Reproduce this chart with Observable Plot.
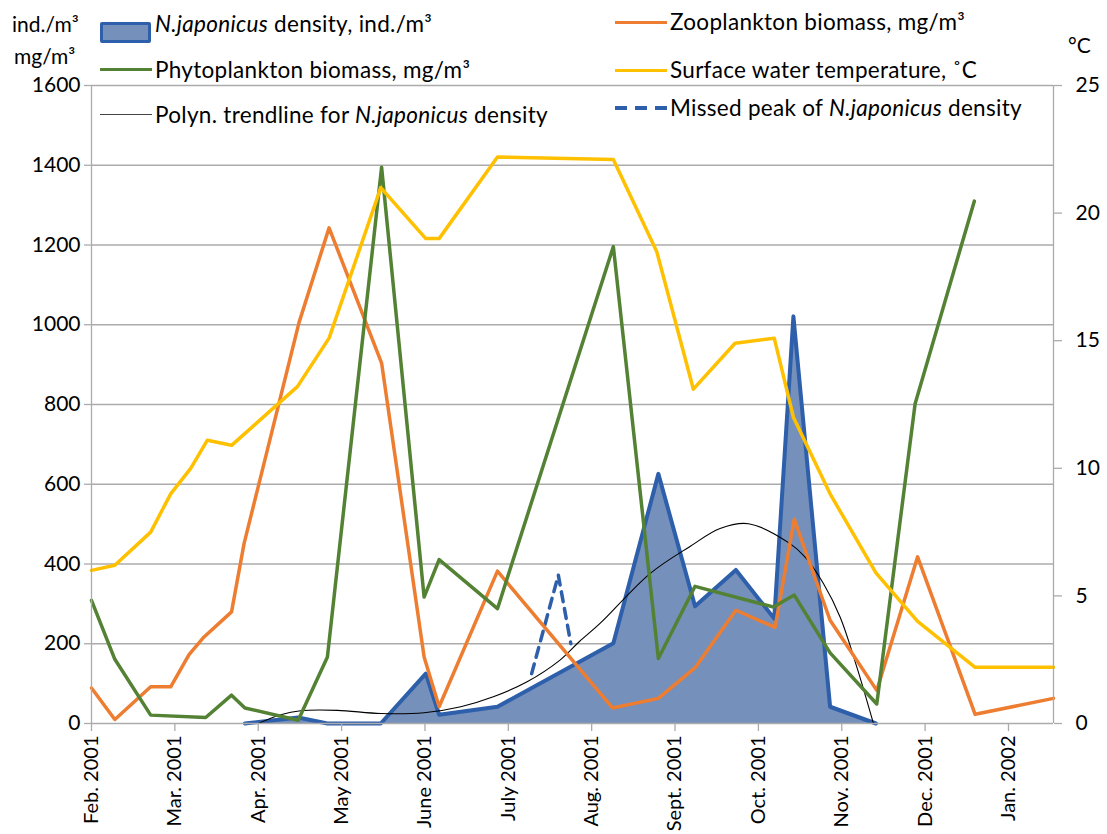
<!DOCTYPE html>
<html><head><meta charset="utf-8">
<script src="https://cdn.jsdelivr.net/npm/d3@7"></script>
<script src="https://cdn.jsdelivr.net/npm/@observablehq/plot@0.6"></script>
<style>
body{margin:0;background:#fff;}
#wrap{position:relative;width:1107px;height:834px;overflow:hidden;font-family:Lato, "Open Sans", sans-serif;}
#wrap svg{position:absolute;left:0;top:0;}
.lg{position:absolute;font-size:22.5px;letter-spacing:0.3px;color:#000;white-space:nowrap;line-height:22px;}
.unit{font-size:21px;letter-spacing:0;}
.sw{position:absolute;}
</style></head><body><div id="wrap"></div>
<script>
// x positions are in months counted from 1 Feb 2001 (axis ticks at whole months)
const monthLabels = ["Feb. 2001","Mar. 2001","Apr. 2001","May 2001","June 2001","July 2001","Aug. 2001","Sept. 2001","Oct. 2001","Nov. 2001","Dec. 2001","Jan. 2002"];
const xEnd = 11.54;
const leftTicks = [0,200,400,600,800,1000,1200,1400,1600];
const rightTicks = [0,5,10,15,20,25];

// N. japonicus density, ind./m3
const density = [[1.84,0],[2.48,15],[2.83,0],[3.47,0],[4.01,125],[4.17,22],[4.87,42],[6.26,201],[6.80,626],[7.24,294],[7.73,385],[8.19,263],[8.42,1021],[8.86,42],[9.41,0]];
// missed peak of N. japonicus density
const missedPeak = [[5.28,125],[5.60,372],[5.75,200]];
// polynomial trendline for density
const trend = [[2.00,0],[2.27,22],[2.51,32],[2.95,33],[3.47,25],[3.99,27],[4.43,42],[4.82,67],[5.22,104],[5.62,159],[5.85,205],[6.10,251],[6.70,376],[7.18,444],[7.54,489],[7.88,501],[8.38,451],[8.56,417],[8.78,351],[8.98,267],[9.18,142],[9.38,0]];
// Zooplankton biomass, mg/m3
const zoo = [[0.00,89],[0.28,10],[0.71,92],[0.95,92],[1.17,173],[1.35,217],[1.68,280],[1.83,451],[2.49,1006],[2.85,1243],[3.48,904],[3.99,167],[4.17,42],[4.87,382],[6.25,39],[6.80,63],[7.24,140],[7.73,284],[8.20,241],[8.43,512],[8.86,259],[9.42,83],[9.91,418],[10.60,23],[11.54,63]];
// Phytoplankton biomass, mg/m3
const phyto = [[0.00,309],[0.28,161],[0.71,21],[1.37,15],[1.68,71],[1.84,39],[2.48,8],[2.83,167],[3.48,1395],[3.99,317],[4.17,411],[4.87,288],[6.26,1196],[6.80,163],[7.24,344],[8.18,292],[8.43,322],[8.86,177],[9.42,49],[9.88,802],[10.59,1310]];
// Surface water temperature, °C
const temp = [[0.00,6.0],[0.28,6.2],[0.71,7.5],[0.95,9.0],[1.19,10.0],[1.39,11.1],[1.68,10.9],[2.47,13.2],[2.85,15.1],[3.47,21.0],[4.01,19.0],[4.17,19.0],[4.87,22.2],[6.26,22.1],[6.78,18.5],[7.22,13.1],[7.72,14.9],[8.19,15.1],[8.42,12.0],[8.86,9.0],[9.41,5.9],[9.91,4.0],[10.60,2.2],[11.54,2.2]];

const tempToLeft = 1600 / 25;
const C = {blue:"#2e5fab", fill:"#7590bb", orange:"#ed7d31", green:"#548235", yellow:"#ffc000", grid:"#ababab"};

const chart = Plot.plot({
  width: 1107, height: 834,
  marginLeft: 91, marginRight: 54, marginTop: 85, marginBottom: 111,
  style: {fontFamily: "Lato, 'Open Sans', sans-serif", fontSize: "21px", color: "#000", background: "#fff"},
  x: {domain: [0, xEnd], axis: null},
  y: {domain: [0, 1600], axis: null},
  marks: [
    Plot.ruleY(leftTicks.slice(1), {stroke: C.grid, strokeWidth: 1.3}),
    Plot.areaY(density, {x: d => d[0], y: d => d[1], fill: C.fill}),
    Plot.line(density, {x: d => d[0], y: d => d[1], stroke: C.blue, strokeWidth: 4, strokeLinejoin: "round"}),
    Plot.line(trend, {x: d => d[0], y: d => d[1], stroke: "#000", strokeWidth: 1.1, curve: "catmull-rom"}),
    Plot.line(missedPeak, {x: d => d[0], y: d => d[1], stroke: C.blue, strokeWidth: 3.5, strokeDasharray: "10,7"}),
    Plot.line(zoo, {x: d => d[0], y: d => d[1], stroke: C.orange, strokeWidth: 3.5}),
    Plot.line(phyto, {x: d => d[0], y: d => d[1], stroke: C.green, strokeWidth: 3.5}),
    Plot.line(temp, {x: d => d[0], y: d => d[1] * tempToLeft, stroke: C.yellow, strokeWidth: 3.5}),
    Plot.ruleX([0, xEnd], {stroke: C.grid, strokeWidth: 1.3}),
    Plot.ruleY([0], {stroke: C.grid, strokeWidth: 1.3}),
    Plot.axisY(leftTicks, {anchor: "left", tickSize: 7, tickPadding: 4, stroke: C.grid, strokeWidth: 1.3, tickFormat: d => String(d)}),
    Plot.axisY(rightTicks.map(t => t * tempToLeft), {anchor: "right", tickSize: 8, tickPadding: 14, stroke: C.grid, strokeWidth: 1.3, tickFormat: d => String(d / tempToLeft)}),
    Plot.axisX(d3.range(monthLabels.length), {anchor: "bottom", tickSize: 8, tickPadding: 4, tickRotate: -90, stroke: C.grid, strokeWidth: 1.3, fontSize: 20, tickFormat: i => monthLabels[i]})
  ]
});

const wrap = document.getElementById("wrap");
wrap.appendChild(chart);

function label(html, left, cy, cls) {
  const d = document.createElement("div");
  d.className = "lg" + (cls ? " " + cls : "");
  d.innerHTML = html;
  d.style.left = left + "px";
  d.style.top = (cy - 11) + "px";
  wrap.appendChild(d);
}
function swatch(left, top, w, h, style) {
  const d = document.createElement("div");
  d.className = "sw";
  Object.assign(d.style, {left: left + "px", top: top + "px", width: w + "px", height: h + "px"}, style);
  wrap.appendChild(d);
}

// axis unit labels
label("ind./m³", 12, 24, "unit");
label("mg/m³", 14, 56, "unit");
label("°C", 1068, 45, "unit");

// legend left column
swatch(100, 22, 45, 15, {background: C.fill, border: "3px solid " + C.blue, borderRadius: "2px"});
label("<i>N.japonicus</i> density, ind./m³", 155, 24);
swatch(100, 68, 52, 0, {borderTop: "3px solid " + C.green});
label("Phytoplankton biomass, mg/m³", 155, 70);
swatch(100, 114, 52, 0, {borderTop: "1.5px solid #444"});
label("Polyn. trendline for <i>N.japonicus</i> density", 155, 115);

// legend right column
swatch(615, 21, 52, 0, {borderTop: "3px solid " + C.orange});
label("Zooplankton biomass, mg/m³", 670, 22);
swatch(615, 69, 52, 0, {borderTop: "3px solid " + C.yellow});
label("Surface water temperature, ˚C", 670, 70);
swatch(615, 106, 52, 3.5, {background: "repeating-linear-gradient(to right, " + C.blue + " 0 12px, transparent 12px 20px)"});
label("Missed peak of <i>N.japonicus</i> density", 670, 108);
</script>
</body></html>
